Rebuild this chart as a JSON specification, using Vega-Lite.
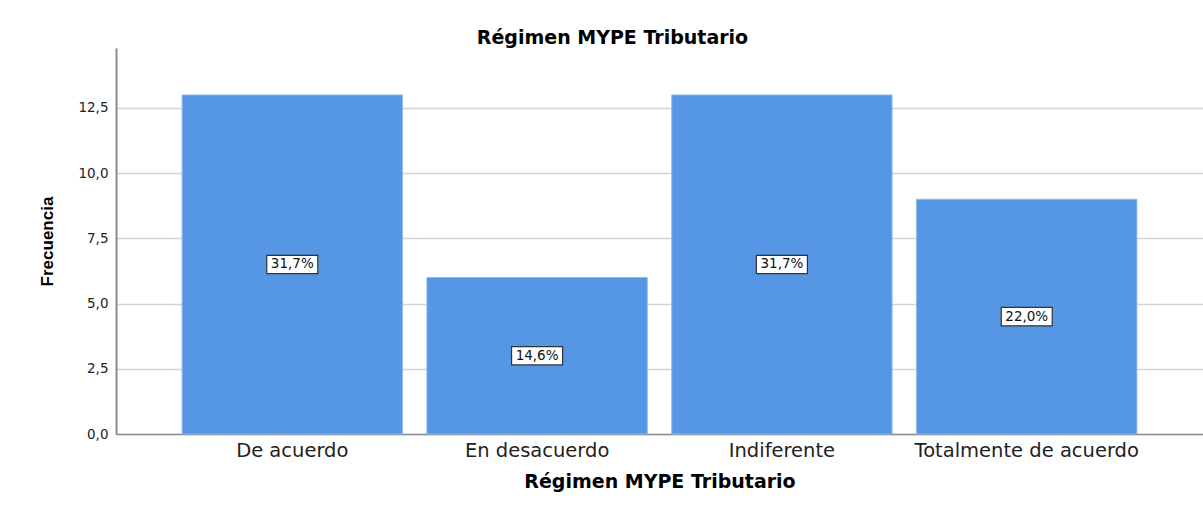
{
  "$schema": "https://vega.github.io/schema/vega-lite/v6.json",
  "width": 1087,
  "height": 386,
  "autosize": {"type": "none"},
  "padding": {"left": 116, "top": 48, "right": 0, "bottom": 86},
  "background": "white",
  "config": {
    "locale": {"number": {"decimal": ",", "thousands": ".", "grouping": [3], "currency": ["", " €"]}},
    "view": {"stroke": null},
    "font": "DejaVu Sans"
  },
  "title": {
    "text": "Régimen MYPE Tributario",
    "fontSize": 19,
    "fontWeight": "bold",
    "font": "DejaVu Sans",
    "color": "#000000",
    "anchor": "middle",
    "frame": "group",
    "dx": -47,
    "offset": 0
  },
  "data": {
    "values": [
      {"categoria": "De acuerdo", "frecuencia": 13, "pct": 0.317},
      {"categoria": "En desacuerdo", "frecuencia": 6, "pct": 0.146},
      {"categoria": "Indiferente", "frecuencia": 13, "pct": 0.317},
      {"categoria": "Totalmente de acuerdo", "frecuencia": 9, "pct": 0.22}
    ]
  },
  "encoding": {
    "x": {
      "field": "categoria",
      "type": "nominal",
      "sort": null,
      "scale": {"paddingInner": 0.1, "paddingOuter": 0.27},
      "axis": {
        "title": "Régimen MYPE Tributario",
        "titleFont": "DejaVu Sans",
        "titleFontSize": 19,
        "titleFontWeight": "bold",
        "titleColor": "#000000",
        "titlePadding": 13,
        "labelAngle": 0,
        "labelFontSize": 19.5,
        "labelLimit": 0,
        "labelColor": "#222222",
        "labelPadding": 7,
        "ticks": false,
        "domainColor": "#8c8c8c",
        "domainWidth": 1.5,
        "grid": false
      }
    }
  },
  "resolve": {"scale": {"y": "independent"}, "axis": {"y": "independent"}},
  "layer": [
    {
      "mark": {"type": "bar", "color": "#5596e5", "stroke": "#8fb9ee", "strokeWidth": 1},
      "encoding": {
        "y": {
          "field": "frecuencia",
          "type": "quantitative",
          "scale": {"domain": [0, 14.8], "nice": false, "zero": true},
          "axis": {
            "title": "Frecuencia",
            "titleFont": "Liberation Sans",
            "titleFontSize": 17,
            "titleFontWeight": "bold",
            "titleColor": "#000000",
            "titleX": -69,
            "titleY": 193,
            "titleAngle": -90,
            "titleAlign": "center",
            "titleBaseline": "middle",
            "values": [0, 2.5, 5, 7.5, 10, 12.5],
            "format": ".1f",
            "labelFontSize": 13.5,
            "labelColor": "#222222",
            "labelPadding": 8,
            "ticks": false,
            "domainColor": "#8c8c8c",
            "domainWidth": 2,
            "gridColor": "#d4d4d4",
            "gridWidth": 1.5
          }
        }
      }
    },
    {
      "mark": {"type": "point", "shape": "M-1,-0.36H1V0.36H-1Z", "filled": true, "fill": "#ffffff", "stroke": "#333333", "strokeWidth": 1.2, "opacity": 1, "size": 2601},
      "encoding": {
        "y": {"field": "frecuencia", "type": "quantitative", "scale": {"domain": [0, 29.6], "nice": false, "zero": true}, "axis": null}
      }
    },
    {
      "mark": {"type": "text", "fontSize": 13.5, "color": "#111111", "align": "center", "baseline": "middle"},
      "encoding": {
        "y": {"field": "frecuencia", "type": "quantitative", "scale": {"domain": [0, 29.6], "nice": false, "zero": true}, "axis": null},
        "text": {"field": "pct", "type": "quantitative", "format": ".1%"}
      }
    }
  ]
}
